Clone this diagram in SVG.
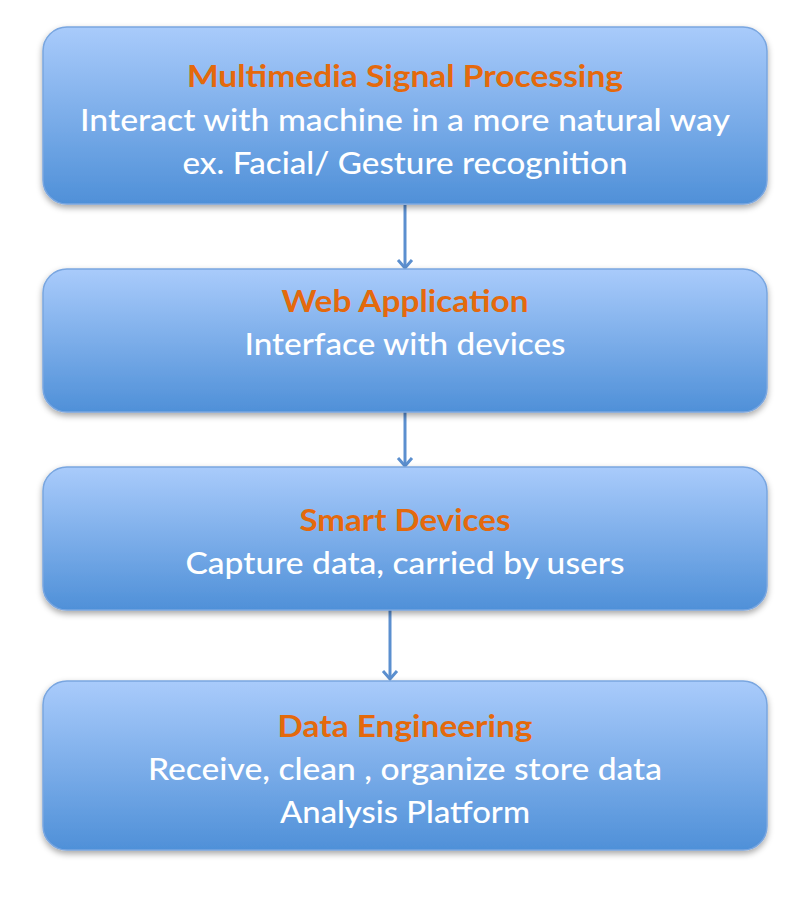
<svg xmlns="http://www.w3.org/2000/svg" width="810" height="902" viewBox="0 0 810 902">
<defs>
<linearGradient id="g" x1="0" y1="0" x2="0" y2="1">
<stop offset="0" stop-color="#a9cbfb"/>
<stop offset="1" stop-color="#4f90d8"/>
</linearGradient>
<filter id="sh" x="-5%" y="-10%" width="110%" height="130%">
<feDropShadow dx="0" dy="3" stdDeviation="3" flood-color="#000" flood-opacity="0.35"/>
</filter>
<marker id="ah" viewBox="0 0 12 18" refX="10" refY="9" markerWidth="12" markerHeight="18" markerUnits="userSpaceOnUse" orient="auto">
<polyline points="2,2 10,9 2,16" fill="none" stroke="#5b8fcf" stroke-width="3"/>
</marker>
</defs>
<style>
.box{fill:url(#g);stroke:#79a6e0;stroke-width:1.5;filter:url(#sh)}
.t{font-family:Lato,"Open Sans","Liberation Sans",sans-serif;font-size:30px;text-anchor:middle}
.h{fill:#e4690c;font-weight:bold}
.b{fill:#ffffff;font-weight:500}
.c{stroke:#5b8fcf;stroke-width:3;fill:none;marker-end:url(#ah)}
</style>
<rect width="810" height="902" fill="#ffffff"/>
<g id="connectors">
<line class="c" x1="405" y1="205" x2="405" y2="268"/>
<line class="c" x1="405" y1="412" x2="405" y2="466"/>
<line class="c" x1="390" y1="610" x2="390" y2="679"/>
</g>
<g id="n1">
<rect class="box" x="43" y="27" width="724" height="177" rx="24"/>
<text class="t h" x="405" y="87" textLength="436" lengthAdjust="spacingAndGlyphs">Multimedia Signal Processing</text>
<text class="t b" x="405" y="131" textLength="650" lengthAdjust="spacingAndGlyphs">Interact with machine in a more natural way</text>
<text class="t b" x="405" y="174" textLength="445" lengthAdjust="spacingAndGlyphs">ex. Facial/ Gesture recognition</text>
</g>
<g id="n2">
<rect class="box" x="43" y="269" width="724" height="143" rx="24"/>
<text class="t h" x="405" y="312" textLength="247" lengthAdjust="spacingAndGlyphs">Web Application</text>
<text class="t b" x="405" y="355" textLength="321" lengthAdjust="spacingAndGlyphs">Interface with devices</text>
</g>
<g id="n3">
<rect class="box" x="43" y="467" width="724" height="143" rx="24"/>
<text class="t h" x="405" y="531" textLength="211" lengthAdjust="spacingAndGlyphs">Smart Devices</text>
<text class="t b" x="405" y="574" textLength="439" lengthAdjust="spacingAndGlyphs">Capture data, carried by users</text>
</g>
<g id="n4">
<rect class="box" x="43" y="681" width="724" height="169" rx="24"/>
<text class="t h" x="405" y="737" textLength="255" lengthAdjust="spacingAndGlyphs">Data Engineering</text>
<text class="t b" x="405" y="780" textLength="514" lengthAdjust="spacingAndGlyphs">Receive, clean , organize store data</text>
<text class="t b" x="405" y="823" textLength="250" lengthAdjust="spacingAndGlyphs">Analysis Platform</text>
</g>
</svg>
